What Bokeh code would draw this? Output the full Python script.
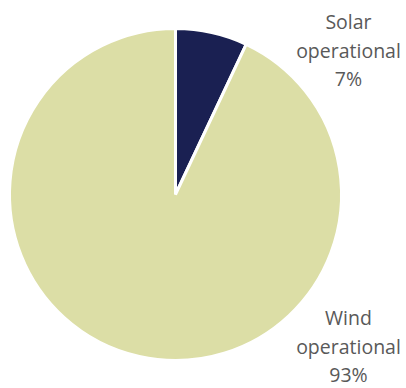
import math
from bokeh.plotting import figure
from bokeh.models import ColumnDataSource
from bokeh.core.properties import value
from bokeh.embed import file_html
from bokeh.resources import INLINE

categories = ["Solar operational", "Wind operational"]
values = [7, 93]
colors = ["#1a2052", "#dcdea6"]

total = sum(values)
start, end = [], []
acc = 0.0
for v in values:
    a0 = math.pi / 2 - 2 * math.pi * (acc + v) / total
    a1 = math.pi / 2 - 2 * math.pi * acc / total
    start.append(a0)
    end.append(a1)
    acc += v

W, H = 406, 388
p = figure(width=W, height=H, x_range=(0, W), y_range=(0, H),
           output_backend="svg", toolbar_location=None, min_border=0)
p.axis.visible = False
p.grid.visible = False
p.outline_line_color = None
p.background_fill_color = "white"

cx, cy, r = 175, H - 194, 166
src = ColumnDataSource(dict(cat=categories, val=values, start=start, end=end, color=colors))
p.wedge(x=cx, y=cy, radius=r, start_angle="start", end_angle="end",
        fill_color="color", line_color="white", line_width=3, source=src)

# label lines: name, "operational", percent
label_x = [348, 348]
label_base_y = [21, 317]  # baseline of first line, in pixels from top
line_gap = 28.5
tx, ty, tt = [], [], []
for c, v, x0, y0 in zip(categories, values, label_x, label_base_y):
    lines = c.split() + [f"{v}%"]
    for i, ln in enumerate(lines):
        tx.append(x0)
        ty.append(H - (y0 + i * line_gap))
        tt.append(ln)
p.text(x=tx, y=ty, text=tt, text_align="center", text_baseline="alphabetic",
       text_font=value("Open Sans"), text_font_size="19.5px", text_color="#595959")

open("out.html", "w").write(file_html(p, INLINE))
